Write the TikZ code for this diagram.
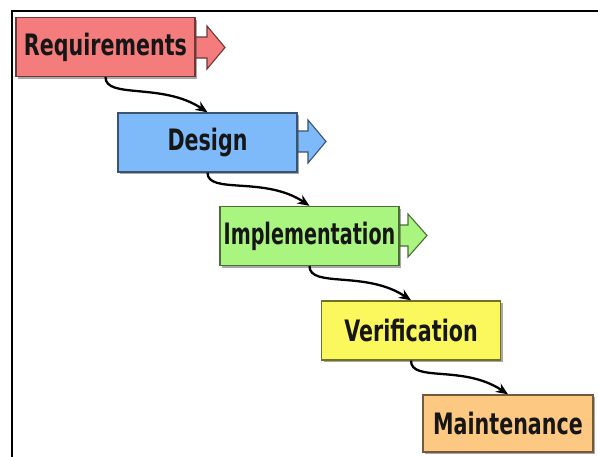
\documentclass[tikz,border=0pt]{standalone}
\usepackage{fontspec}
\usetikzlibrary{arrows.meta,shadows,calc}
\newfontfamily\boxfont{DejaVu Sans}[FakeStretch=0.70]
\newfontfamily\narrowboxfont{DejaVu Sans}[FakeStretch=0.65]

\definecolor{reqfill}{RGB}{244,124,124}
\definecolor{desfill}{RGB}{126,186,250}
\definecolor{impfill}{RGB}{170,244,128}
\definecolor{verfill}{RGB}{250,248,92}
\definecolor{maifill}{RGB}{253,200,130}
\definecolor{inktext}{RGB}{22,22,22}

\tikzset{
  phase/.style={draw=#1!45!black, fill=#1, line width=1.3pt,
    minimum width=179pt, minimum height=59pt, inner sep=0pt,
    text=inktext, font=\boxfont\bfseries\fontsize{29.5}{34}\selectfont,
    drop shadow={shadow xshift=2pt, shadow yshift=-2pt, opacity=0.45, fill=black!75}},
  flowline/.style={line width=2.3pt, black,
    -{Stealth[length=12pt, width=10pt]}},
  sidearrow/.style={draw=#1!45!black, fill=#1, line width=1.1pt, line join=miter}
}

\begin{document}
\begin{tikzpicture}[x=1pt, y=-1pt]
  \useasboundingbox (0,0) rectangle (598,456);
  \clip (0,0) rectangle (598,456);
  \fill[white] (0,0) rectangle (598,456);

  % open frame, running off the right and bottom edges
  \draw[line width=2.6pt, black] (12,470) -- (12,11) -- (620,11);

  % anchors for the side arrows (drawn first so the boxes cover their tails)
  \coordinate (reqE) at (195,47.5);
  \coordinate (desE) at (297,141.5);
  \coordinate (impE) at (399,235.5);
  \path[sidearrow=reqfill] ($(reqE)+(-4,-10.5)$) -- ++(16,0) -- ++(0,-11)
    -- ++(18,21.5) -- ++(-18,21.5) -- ++(0,-11) -- ++(-16,0) -- cycle;
  \path[sidearrow=desfill] ($(desE)+(-4,-10.5)$) -- ++(15,0) -- ++(0,-11)
    -- ++(18,21.5) -- ++(-18,21.5) -- ++(0,-11) -- ++(-15,0) -- cycle;
  \path[sidearrow=impfill] ($(impE)+(-4,-10.5)$) -- ++(13,0) -- ++(0,-11)
    -- ++(19,21.5) -- ++(-19,21.5) -- ++(0,-11) -- ++(-13,0) -- cycle;

  % the five phases
  \node[phase=reqfill] (req) at (105.5,47) {Requirements};
  \node[phase=desfill] (des) at (207.5,142.5) {Design};
  \node[phase=impfill, font=\narrowboxfont\bfseries\fontsize{29.5}{34}\selectfont]
    (imp) at (309.5,236) {Implementation};
  \node[phase=verfill] (ver) at (411,330.5) {Verification};
  \node[phase=maifill, minimum width=170pt, minimum height=57pt]
    (mai) at (508,423.5) {Maintenance};

  % cascading connectors
  \draw[flowline] (req.south) .. controls +(0,22) and +(-45,-30) .. (des.north);
  \draw[flowline] (des.south) .. controls +(0,22) and +(-45,-30) .. (imp.north);
  \draw[flowline] (imp.south) .. controls +(0,22) and +(-45,-30) .. (ver.north);
  \draw[flowline] (ver.south) .. controls +(0,22) and +(-45,-30) .. (mai.north);
\end{tikzpicture}
\end{document}
